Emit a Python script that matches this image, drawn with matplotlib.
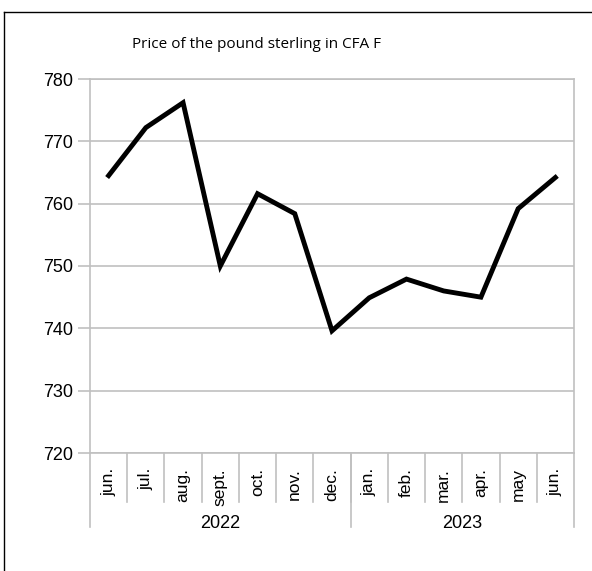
import matplotlib
matplotlib.use("Agg")
import matplotlib.pyplot as plt
from matplotlib.lines import Line2D
import matplotlib.transforms as mtransforms

months = ["jun.", "jul.", "aug.", "sept.", "oct.", "nov.", "dec.",
          "jan.", "feb.", "mar.", "apr.", "may", "jun."]
years = ["2022", "2023"]
year_counts = [7, 6]
values = [764.5, 772.2, 776.2, 750.0, 761.6, 758.4, 739.6,
          744.9, 747.9, 746.0, 745.0, 759.2, 764.2]
title = "Price of the pound sterling in CFA F"
yticks = [720, 730, 740, 750, 760, 770, 780]

W, H = 592, 571
fig = plt.figure(figsize=(W / 100, H / 100), dpi=100)
fig.patch.set_facecolor("white")

# outer chart frame (left and top edges visible)
fig.add_artist(Line2D([4 / W, 4 / W], [0, 1 - 12 / H], color="black", lw=1.0, transform=fig.transFigure))
fig.add_artist(Line2D([4 / W, 1], [1 - 12 / H, 1 - 12 / H], color="black", lw=1.0, transform=fig.transFigure))

L, R, T, B = 90, 574, 79, 453
ax = fig.add_axes([L / W, 1 - B / H, (R - L) / W, (B - T) / H])

grid_c = "#c0c0c0"
n = len(months)
x = list(range(n))
ax.set_xlim(-0.5, n - 0.5)
ax.set_ylim(720, 780)
ax.set_yticks(yticks)
ax.set_yticklabels([str(v) for v in yticks], fontsize=13, family="Liberation Sans")
for v in yticks:
    ax.axhline(v, color=grid_c, lw=1.2, zorder=1)
ax.tick_params(axis="y", length=9, color=grid_c, width=1.2, pad=3)
ax.set_xticks([])

for s in ["left", "right", "bottom", "top"]:
    ax.spines[s].set_color(grid_c)
    ax.spines[s].set_linewidth(1.2)

ax.plot(x, values, color="black", lw=3.5, solid_joinstyle="miter", zorder=3)

# category labels and separators
trans = mtransforms.blended_transform_factory(ax.transData, ax.transAxes)
sep_len = (502 - B) / (B - T)
grp_len = (527 - B) / (B - T)
for i, m in enumerate(months):
    ax.text(i, -15 / (B - T), m, rotation=90, ha="center", va="top",
            fontsize=12.5, family="Liberation Sans", transform=trans, clip_on=False)
for i in range(1, n):
    ax.add_line(Line2D([i - 0.5, i - 0.5], [0, -sep_len], color=grid_c, lw=1.2,
                       transform=trans, clip_on=False))
# year groups
bounds = [0]
for c in year_counts:
    bounds.append(bounds[-1] + c)
for b in bounds:
    ax.add_line(Line2D([b - 0.5, b - 0.5], [0, -grp_len], color=grid_c, lw=1.2,
                       transform=trans, clip_on=False))
for k, yname in enumerate(years):
    mid = (bounds[k] + bounds[k + 1]) / 2 - 0.5
    ax.text(mid, -(523 - B) / (B - T), yname, ha="center", va="center",
            fontsize=13, family="Liberation Sans", transform=trans, clip_on=False)

fig.text(256 / W, 1 - 45 / H, title, ha="center", va="center", fontsize=11,
         family="Open Sans")

fig.savefig("out.png", dpi=100, facecolor="white")
